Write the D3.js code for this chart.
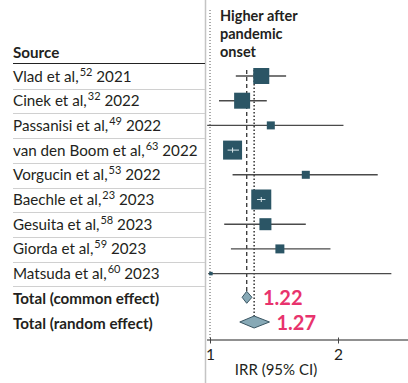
<!DOCTYPE html>
<html>
<head>
<meta charset="utf-8">
<script src="https://cdn.jsdelivr.net/npm/d3@7"></script>
<style>
  html, body { margin: 0; padding: 0; background: #fff; }
  svg { display: block; }
  text { font-family: Lato, "Open Sans", sans-serif; }
</style>
</head>
<body>
<svg id="chart" width="408" height="383"></svg>
<script>
// ---- data ----
const studies = ["Vlad et al,", "Cinek et al,", "Passanisi et al,", "van den Boom et al,", "Vorgucin et al,", "Baechle et al,", "Gesuita et al,", "Giorda et al,", "Matsuda et al,"];
const refs = ["52", "32", "49", "63", "53", "23", "58", "59", "60"];
const years = ["2021", "2022", "2022", "2022", "2022", "2023", "2023", "2023", "2023"];
const irr = [1.32, 1.19, 1.39, 1.13, 1.68, 1.32, 1.35, 1.46, 1.005];
const ciLow = [1.15, 1.05, 0.985, 1.10, 1.13, 1.29, 1.08, 1.12, 0.99];
const ciHigh = [1.51, 1.36, 2.06, 1.17, 2.48, 1.35, 1.68, 1.92, 2.67];
const weights = [15.6, 15.6, 3.9, 22.0, 3.9, 24.4, 8.8, 4.9, 0.5];
const totalLabels = ["Total (common effect)", "Total (random effect)"];
const totalEst = [1.22, 1.27];
const totalLow = [1.19, 1.175];
const totalHigh = [1.255, 1.38];
const xTicks = [1, 2];
const headerLines = ["Higher after", "pandemic", "onset"];

const svg = d3.select("#chart");
const x = d3.scaleLog().domain([1, 2]).range([210, 338]);
const y = d3.scaleLinear().domain([0, 1]).range([76, 100.7]);
const size = d3.scaleSqrt().domain([0, 24.4]).range([0, 20]);
const sepLeft = 13, sepRight = 205;
const axisY = 339.5;
const textCol = "#231f20";
const labelSize = 15.2;

// left panel border
svg.append("line").attr("x1", 205.5).attr("x2", 205.5).attr("y1", 0).attr("y2", 383)
  .attr("stroke", "#c4c4c4").attr("stroke-width", 1.5);

// header
svg.append("text").attr("x", sepLeft).attr("y", 58).attr("font-size", labelSize)
  .attr("font-weight", "bold").attr("fill", textCol).text("Source");
svg.append("line").attr("x1", sepLeft).attr("x2", sepRight).attr("y1", 63.5).attr("y2", 63.5)
  .attr("stroke", "#222").attr("stroke-width", 1);

const hdr = svg.append("text").attr("font-size", 14.5).attr("font-weight", "bold").attr("fill", textCol);
headerLines.forEach((t, i) => hdr.append("tspan").attr("x", 220).attr("y", 21 + i * 18).text(t));

// row separators
d3.range(studies.length).forEach(i => {
  const yy = Math.round(y(i) + 12.7) + 0.5;
  svg.append("line").attr("x1", sepLeft).attr("x2", sepRight).attr("y1", yy).attr("y2", yy)
    .attr("stroke", "#d0d0d0").attr("stroke-width", 1);
});

// study labels
studies.forEach((s, i) => {
  const t = svg.append("text").attr("x", sepLeft).attr("y", y(i) + 5.5)
    .attr("font-size", labelSize).attr("fill", textCol);
  t.append("tspan").text(s);
  t.append("tspan").attr("font-size", 11).attr("dx", 1).attr("dy", -6).text(refs[i]);
  t.append("tspan").attr("dy", 6).text(" " + years[i]);
});
totalLabels.forEach((s, i) => {
  svg.append("text").attr("x", sepLeft).attr("y", y(studies.length + i) + 5.5)
    .attr("font-size", labelSize).attr("font-weight", "bold").attr("fill", textCol).text(s);
});

// reference lines
svg.append("line").attr("x1", x(1)).attr("x2", x(1)).attr("y1", 10).attr("y2", axisY)
  .attr("stroke", "#555").attr("stroke-width", 1).attr("stroke-dasharray", "1,2");
svg.append("line").attr("x1", x(totalEst[0])).attr("x2", x(totalEst[0]))
  .attr("y1", 70).attr("y2", y(studies.length) - 6)
  .attr("stroke", "#333").attr("stroke-width", 1.3).attr("stroke-dasharray", "4,3");
svg.append("line").attr("x1", x(totalEst[1])).attr("x2", x(totalEst[1]))
  .attr("y1", 70).attr("y2", y(studies.length + 1) - 6)
  .attr("stroke", "#333").attr("stroke-width", 1.5).attr("stroke-dasharray", "1.5,2");

// studies
const boxCol = "#2b5565";
studies.forEach((s, i) => {
  const cy = y(i);
  const lo = Math.max(ciLow[i], x.invert(206));
  svg.append("line").attr("x1", x(lo)).attr("x2", x(ciHigh[i])).attr("y1", cy).attr("y2", cy)
    .attr("stroke", "#4a4a4a").attr("stroke-width", 1.4);
  const w = Math.max(size(weights[i]), 3.5);
  svg.append("rect").attr("x", x(irr[i]) - w / 2).attr("y", cy - w / 2)
    .attr("width", w).attr("height", w).attr("fill", boxCol);
  if (x(ciLow[i]) > x(irr[i]) - w / 2 && x(ciHigh[i]) < x(irr[i]) + w / 2) {
    svg.append("line").attr("x1", x(ciLow[i])).attr("x2", x(ciHigh[i])).attr("y1", cy).attr("y2", cy)
      .attr("stroke", "#d8e6ea").attr("stroke-width", 1);
    svg.append("line").attr("x1", x(irr[i])).attr("x2", x(irr[i])).attr("y1", cy - 2.5).attr("y2", cy + 2.5)
      .attr("stroke", "#d8e6ea").attr("stroke-width", 1);
  }
});

// diamonds
const dHalf = [6, 6];
const labelOffset = [11, 7];
totalEst.forEach((v, i) => {
  const cy = y(studies.length + i) - 1;
  const pts = [[x(totalLow[i]), cy], [x(v), cy - dHalf[i]], [x(totalHigh[i]), cy], [x(v), cy + dHalf[i]]];
  svg.append("path").attr("d", d3.line()(pts) + "Z")
    .attr("fill", "#87a9b6").attr("stroke", "#3a5663").attr("stroke-width", 1);
  svg.append("text").attr("x", x(totalHigh[i]) + labelOffset[i]).attr("y", cy + 7.5)
    .attr("font-size", 20).attr("font-weight", "bold").attr("fill", "#e8336d")
    .attr("font-family", "Liberation Sans, Arial, sans-serif").text(v.toFixed(2));
});

// x axis
const axisScale = x.copy().domain([x.invert(206.5), x.invert(408)]).range([206.5, 408]);
const ax = svg.append("g").attr("transform", `translate(0,${axisY})`)
  .call(d3.axisBottom(axisScale).tickValues(xTicks).tickFormat(d3.format("d")).tickSizeOuter(0).tickSizeInner(4));
ax.select(".domain").attr("stroke", "#222").attr("stroke-width", 1.2);
ax.selectAll(".tick line").attr("stroke", "#444").attr("y1", -2);
ax.selectAll(".tick text").attr("font-size", 15.5).attr("fill", textCol).attr("dy", "0.9em")
  .attr("font-family", "Lato, sans-serif");

svg.append("text").attr("x", 276).attr("y", 375).attr("text-anchor", "middle")
  .attr("font-size", 15).attr("fill", textCol).text("IRR (95% CI)");
</script>
</body>
</html>
